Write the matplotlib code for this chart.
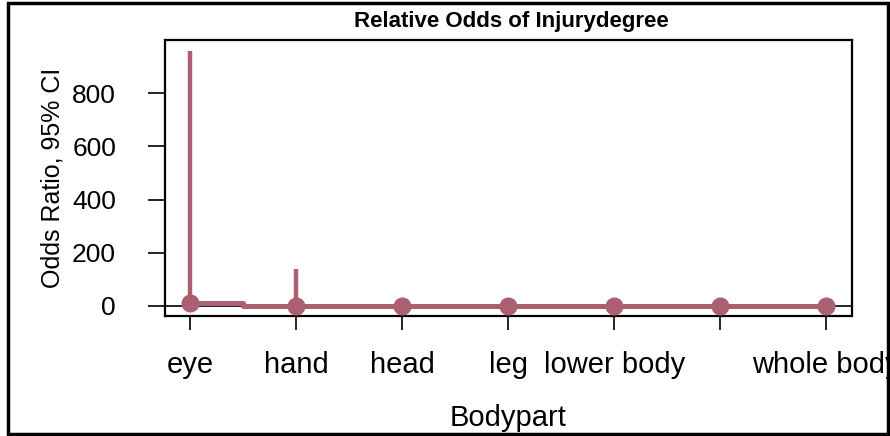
#!/usr/bin/env python3

"""Relative odds of injury degree by body part, R base-graphics look."""

import matplotlib
matplotlib.use("Agg")
import matplotlib.pyplot as plt
from matplotlib.patches import Rectangle
from matplotlib.transforms import Bbox, TransformedBbox

# Data
bodypart = ["eye", "hand", "head", "leg", "lower body", "upper body", "whole body"]
# R dropped the 6th label because it overlapped its neighbours
tick_labels = ["eye", "hand", "head", "leg", "lower body", "", "whole body"]
odds_ratio = [11, 1.2, 1.0, 1.0, 1.0, 1.0, 1.0]
ci_lower = [0.4, 0.1, 0.3, 0.3, 0.3, 0.3, 0.3]
ci_upper = [960, 140, 4, 4, 4, 4, 4]
y_ticks = [0, 200, 400, 600, 800]

col = "#AD5F72"
plt.rcParams["font.family"] = ["Liberation Sans", "DejaVu Sans"]

fig = plt.figure(figsize=(8.9, 4.36), dpi=100)
ax = fig.add_axes([0.185, 0.275, 0.772, 0.633])

x = list(range(1, len(bodypart) + 1))

# reference line at OR = 1
ax.axhline(1, color="black", lw=1.2, zorder=1)
# confidence intervals
ax.vlines(x, ci_lower, ci_upper, color=col, lw=3.2, zorder=2)
# point estimates joined by a step line
ax.plot(x, odds_ratio, color=col, lw=3.6, drawstyle="steps-mid", zorder=3)
ax.plot(x, odds_ratio, "o", color=col, ms=12, zorder=4)

ax.set_xlim(0.76, 7.24)
ax.set_ylim(-38.5, 1000.5)
ax.set_xticks(x)
ax.set_xticklabels(tick_labels, fontsize=21)
ax.set_yticks(y_ticks)
ax.set_yticklabels([str(v) for v in y_ticks], fontsize=19)
ax.tick_params(axis="y", direction="out", length=12, width=1.2, pad=23)
ax.tick_params(axis="x", direction="out", length=10, width=1.2, pad=15)
for s in ax.spines.values():
    s.set_linewidth(1.6)

fig.text(511 / 890, 1 - 21 / 436, "Relative Odds of Injurydegree",
         fontsize=16, fontweight="bold", ha="center", va="center")
fig.text(53 / 890, 1 - 178 / 436, "Odds Ratio, 95% CI", fontsize=18,
         rotation=90, ha="center", va="center")
fig.text(508 / 890, 1 - 418 / 436, "Bodypart", fontsize=21,
         ha="center", va="center")

# outer frame round the whole picture
frame = Rectangle((8 / 890, 2 / 436), 880 / 890, 431 / 436,
                  transform=fig.transFigure, fill=False, lw=2.5, color="black")
fig.add_artist(frame)

# labels running past the frame are cut off, as in the reference
clip = TransformedBbox(Bbox([[0, 0], [887 / 890, 1]]), fig.transFigure)
for lbl in ax.get_xticklabels():
    lbl.set_clip_on(True)
    lbl.set_clip_box(clip)

fig.savefig("out.png", dpi=100)
